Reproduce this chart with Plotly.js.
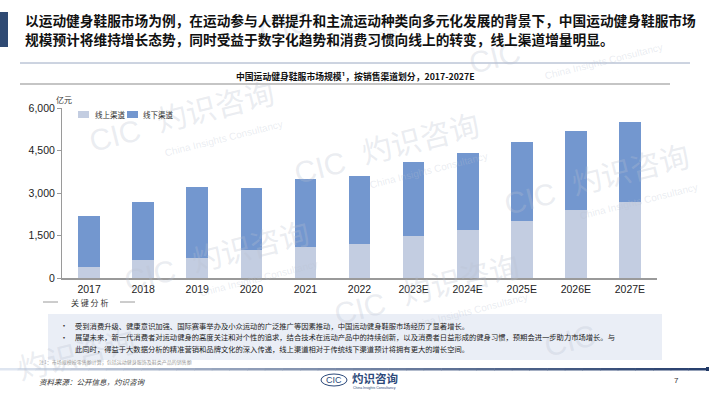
<!DOCTYPE html>
<html><head><meta charset="utf-8">
<script src="https://cdn.plot.ly/plotly-3.0.1.min.js"></script>
<style>html,body{margin:0;padding:0;background:#fff}#chart{width:710px;height:399px}</style>
</head><body><div id="chart"></div>
<script>
// ---- data ----
const years = ["2017","2018","2019","2020","2021","2022","2023E","2024E","2025E","2026E","2027E"];
const onlineSales = [390, 620, 700, 1000, 1090, 1200, 1500, 1700, 2000, 2390, 2700];
const totalSales  = [2200, 2700, 3200, 3190, 3500, 3600, 4100, 4400, 4800, 5200, 5500];
const offlineSales = [1810, 2080, 2500, 2190, 2410, 2400, 2600, 2700, 2800, 2810, 2800];
const seriesNames = ["线上渠道", "线下渠道"];
const yTicks = [0, 1500, 3000, 4500, 6000];
const headline = ["以运动健身鞋服市场为例，在运动参与人群提升和主流运动种类向多元化发展的背景下，中国运动健身鞋服市场",
                  "规模预计将维持增长态势，同时受益于数字化趋势和消费习惯向线上的转变，线上渠道增量明显。"];
const chartTitle = "中国运动健身鞋服市场规模¹，按销售渠道划分，2017-2027E";
const unitLabel = "亿元";
const sectionLabel = "关 键 分 析";
const bullets = ["受到消费升级、健康意识加强、国际赛事举办及小众运动的广泛推广等因素推动，中国运动健身鞋服市场经历了显著增长。",
                 "展望未来，新一代消费者对运动健身的高度关注和对个性的追求，结合技术在运动产品中的持续创新，以及消费者日益形成的健身习惯，预期会进一步助力市场增长。与",
                 "此同时，得益于大数据分析的精准营销和品牌文化的深入传递，线上渠道相对于传统线下渠道预计将拥有更大的增长空间。"];
const footnote = "注1：市场规模按零售额计算，包括运动健身服饰及鞋类产品的销售额";
const sourceText = "资料来源：公开信息，灼识咨询";
const pageNo = "7";

// ---- layout helpers (pixel -> paper) ----
const L = 62, R = 657, T = 108, B = 278;
const X = px => (px - L) / (R - L);
const Y = py => (B - py) / (B - T);
const CJK = "Noto Sans CJK SC, sans-serif";
const ARIAL = "Arial, Liberation Sans, sans-serif";
const colOn = "#C3CDE1", colOff = "#7397CF";

const traces = [
  {type:"bar", name:seriesNames[0], x:years, y:onlineSales, marker:{color:colOn}, showlegend:false, hoverinfo:"y"},
  {type:"bar", name:seriesNames[1], x:years, y:offlineSales, marker:{color:colOff}, showlegend:false, hoverinfo:"y"}
];

const shapes = [];
const ann = [];
function rect(x0,y0,x1,y1,color,line){shapes.push({type:"rect",xref:"paper",yref:"paper",x0:X(x0),x1:X(x1),y0:Y(y0),y1:Y(y1),fillcolor:color,line:line||{width:0},layer:"below"});}
function hline(x0,x1,y,color,w){shapes.push({type:"line",xref:"paper",yref:"paper",x0:X(x0),x1:X(x1),y0:Y(y),y1:Y(y),line:{color:color,width:w}});}
function txt(x,y,text,size,color,opts){ann.push(Object.assign({xref:"paper",yref:"paper",x:X(x),y:Y(y),text:text,showarrow:false,xanchor:"left",yanchor:"middle",font:{family:CJK,size:size,color:color}},opts||{}));}

// watermark tiles (only pieces that fit fully inside the page)
const wm = "rgba(185,193,208,0.30)";
const tiles = [[80,-5],[285,27],[495,58],[704,90],[115,135],[320,167],[530,198],[-60,243],[150,275],[360,308],[570,340],[-24,383],[185,415]];
function inside(cx,cy,w,h){return cx-w/2>2 && cx+w/2<708 && cy-h/2>2 && cy+h/2<397;}
tiles.forEach(([cx,cy])=>{
  if(inside(cx,cy,60,40)) txt(cx,cy,"CIC",30,wm,{xanchor:"center",textangle:-14,font:{family:ARIAL,size:30,color:wm}});
  if(inside(cx+100,cy-30,125,60)) txt(cx+100,cy-30,"灼识咨询",30,wm,{xanchor:"center",textangle:-14});
  if(inside(cx+108,cy+3,130,36)) txt(cx+108,cy+3,"China Insights Consultancy",10,wm,{xanchor:"center",textangle:-14,font:{family:ARIAL,size:10,color:wm}});
});

// header
rect(0,12,8,47,"#2F4A73");
txt(23,20,headline[0],13.7,"#111",{font:{family:CJK,size:13.7,color:"#111",weight:700}});
txt(23,39,headline[1],13.7,"#111",{font:{family:CJK,size:13.7,color:"#111",weight:700}});

// chart title band
hline(20,690,63,"#9AA8C2",1);
hline(20,670,84,"#8C8C8C",1.2);
txt(355,76,chartTitle,8.8,"#111",{xanchor:"center",font:{family:CJK,size:8.8,color:"#111",weight:700}});

// unit
txt(64,99,unitLabel,8,"#333",{xanchor:"center"});

// manual legend
rect(78,111,89,118,colOn);
txt(93,114.5,seriesNames[0],7.5,"#333");
rect(127,111,138,118,colOff);
txt(141,114.5,seriesNames[1],7.5,"#333");

// key analysis
hline(43,58,302,"#9A9A9A",1);
hline(120,135,302,"#9A9A9A",1);
txt(89,302,sectionLabel,8,"#333",{xanchor:"center"});
rect(48,314,662,360,"#EAEEF6");
txt(64,325.5,"•",8,"#333",{xanchor:"center"});
txt(64,337,"•",8,"#333",{xanchor:"center"});
txt(73,325.5,bullets[0],7.3,"#222");
txt(73,337,bullets[1],7.3,"#222");
txt(73,348.5,bullets[2],7.3,"#222");

// footnote
txt(37,362,footnote,5,"#9a9a9a");

// footer gradient line
const nSeg = 40;
for(let i=0;i<nSeg;i++){
  const t=i/(nSeg-1);
  const c0=[222,229,240], c1=[40,64,110];
  const c=c0.map((v,k)=>Math.round(v+(c1[k]-v)*Math.pow(t,0.8)));
  rect(i*706/nSeg,368,(i+1)*706/nSeg+0.5,370.5,`rgb(${c[0]},${c[1]},${c[2]})`);
}
rect(706,367,709,371,"#1F3864");

// source & logo & page
txt(37,381,sourceText,7.5,"#333",{font:{family:CJK,size:7.5,color:"#333",style:"italic"}});
shapes.push({type:"circle",xref:"paper",yref:"paper",x0:X(321),x1:X(347),y0:Y(374),y1:Y(386),line:{color:"#2D4A7A",width:1}});
txt(334,380,"CIC",9,"#2D4A7A",{xanchor:"center",font:{family:ARIAL,size:9,color:"#2D4A7A"}});
txt(350,378,"灼识咨询",11.5,"#2D4A7A",{font:{family:CJK,size:11.5,color:"#2D4A7A",weight:700}});
txt(351,388,"China Insights Consultancy",3.5,"#2D4A7A",{font:{family:ARIAL,size:3.5,color:"#2D4A7A"}});
txt(676,380,pageNo,8,"#333",{xanchor:"center",font:{family:ARIAL,size:8,color:"#333"}});

const layout = {
  width:710, height:399,
  margin:{l:L, r:710-R, t:T, b:399-B, pad:0},
  paper_bgcolor:"#fff", plot_bgcolor:"rgba(0,0,0,0)",
  barmode:"stack", bargap:0.6,
  showlegend:false,
  xaxis:{type:"category", showline:true, linecolor:"#9A9A9A", linewidth:2, ticks:"", showgrid:false, zeroline:false,
         tickfont:{family:ARIAL,size:10.5,color:"#222"}, range:[-0.5,10.5]},
  yaxis:{range:[0,6000], tickvals:yTicks, tickformat:",", showline:true, linecolor:"#9A9A9A", linewidth:1,
         ticks:"outside", ticklen:4, tickcolor:"#9A9A9A", showgrid:false, zeroline:false,
         tickfont:{family:ARIAL,size:10.5,color:"#222"}},
  shapes:shapes, annotations:ann
};
Plotly.newPlot("chart", traces, layout, {displayModeBar:false, staticPlot:true});
</script></body></html>
